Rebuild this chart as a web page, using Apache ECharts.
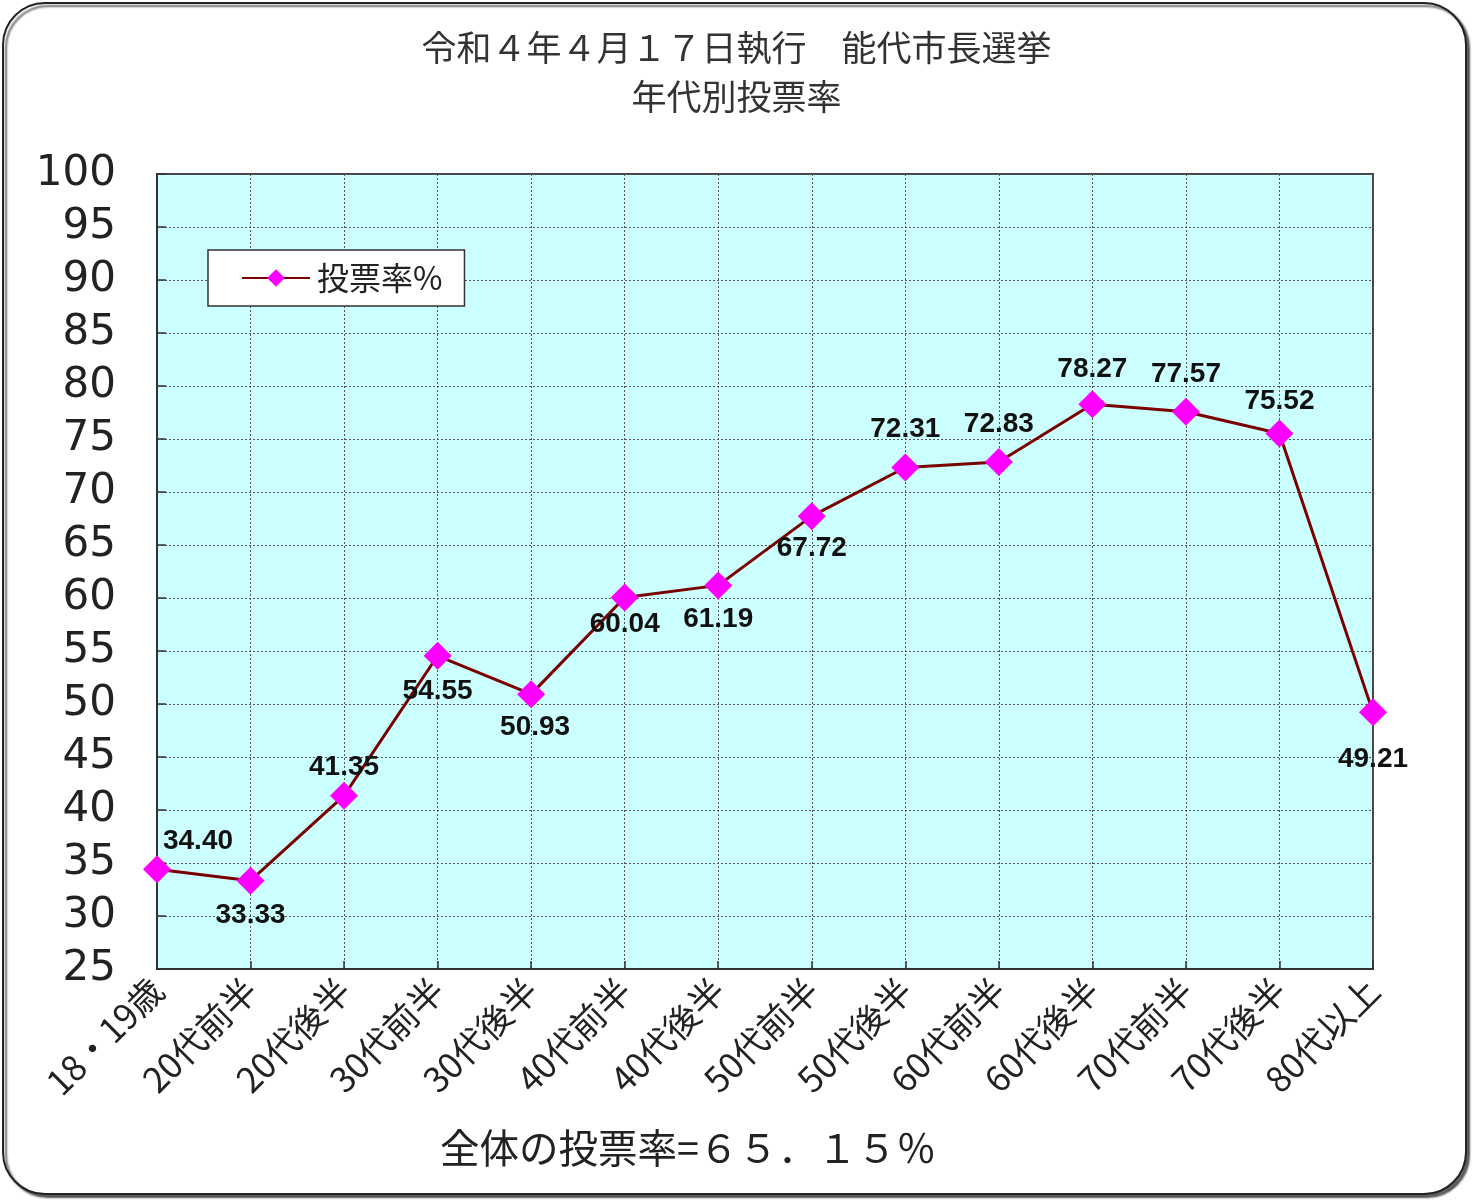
<!DOCTYPE html>
<html>
<head>
<meta charset="utf-8">
<script src="https://cdn.jsdelivr.net/npm/echarts@6/dist/echarts.min.js"></script>
<style>
html,body{margin:0;padding:0;background:#fff;}
#chart{width:1473px;height:1200px;}
</style>
</head>
<body>
<div id="chart"></div>
<script>
const titleLines = ['令和４年４月１７日執行　能代市長選挙', '年代別投票率'];
const categories = ['18・19歳','20代前半','20代後半','30代前半','30代後半','40代前半','40代後半','50代前半','50代後半','60代前半','60代後半','70代前半','70代後半','80代以上'];
const seriesName = '投票率%';
const values = [34.40, 33.33, 41.35, 54.55, 50.93, 60.04, 61.19, 67.72, 72.31, 72.83, 78.27, 77.57, 75.52, 49.21];
const yMin = 25, yMax = 100, yStep = 5;
const footer = '全体の投票率=６５．１５％';

// label layout offsets (dx, dy) relative to each point
const labelOffsets = [[41,-28],[0,35],[0,-28],[0,36],[4,33],[0,27],[0,34],[0,32],[0,-38],[0,-38],[0,-35],[0,-37],[0,-32],[0,47]];

const chart = echarts.init(document.getElementById('chart'));
const data = values.map((v, i) => ({
  value: v,
  label: { offset: labelOffsets[i] }
}));

chart.setOption({
  animation: false,
  backgroundColor: 'transparent',
  graphic: [
    { type: 'rect', z: -10, shape: { x: 3, y: 3, width: 1463, height: 1191, r: 42 },
      style: { fill: '#fff', stroke: '#222', lineWidth: 2, shadowColor: 'rgba(0,0,0,0.6)', shadowOffsetX: 3, shadowOffsetY: 3, shadowBlur: 2 } },
    { type: 'text', z: 10, left: 'center', top: 30,
      style: { text: titleLines[0], font: '35px "Noto Sans CJK JP"', fill: '#333' } },
    { type: 'text', z: 10, left: 'center', top: 79,
      style: { text: titleLines[1], font: '35px "Noto Sans CJK JP"', fill: '#333' } },
    { type: 'text', z: 10, left: 440, top: 1128,
      style: { text: footer, font: '39.5px "Noto Sans CJK JP"', fill: '#222' } }
  ],
  legend: {
    left: 208, top: 250,
    orient: 'vertical',
    backgroundColor: '#fff',
    borderColor: '#333', borderWidth: 1.5,
    padding: [12, 22, 12, 33],
    itemWidth: 68, itemHeight: 22, itemGap: 10,
    textStyle: { fontSize: 32, color: '#222', fontFamily: '"Noto Sans CJK JP"', padding: [0, 0, 0, 2] },
    data: [seriesName]
  },
  grid: {
    left: 157, top: 174, width: 1216, height: 795,
    show: true, backgroundColor: '#CCFFFF', borderColor: '#444', borderWidth: 2
  },
  xAxis: {
    type: 'category',
    data: categories,
    boundaryGap: false,
    axisLine: { lineStyle: { color: '#333', width: 2 } },
    axisTick: { inside: true, length: 8, lineStyle: { color: '#333', width: 1.5 } },
    splitLine: { show: true, lineStyle: { color: '#555', type: [2, 2], width: 1 } },
    axisLabel: { rotate: 45, margin: 15, fontSize: 35, color: '#222', fontFamily: '"Noto Sans CJK JP"', interval: 0 }
  },
  yAxis: {
    type: 'value',
    min: yMin, max: yMax, interval: yStep,
    axisLine: { show: true, lineStyle: { color: '#333', width: 2 } },
    axisTick: { show: true, inside: true, length: 9, lineStyle: { color: '#333', width: 1.5 } },
    splitLine: { show: true, lineStyle: { color: '#555', type: [2, 2], width: 1 } },
    axisLabel: { margin: 41, fontSize: 42, color: '#222', fontFamily: 'DejaVu Sans' }
  },
  series: [{
    name: seriesName,
    type: 'line',
    data: data,
    symbol: 'diamond',
    symbolSize: 28,
    lineStyle: { color: '#7A0000', width: 3 },
    itemStyle: { color: '#FF00FF', borderWidth: 0 },
    label: {
      show: true,
      position: 'inside',
      formatter: p => p.value.toFixed(2),
      fontSize: 28, fontWeight: 'bold', fontFamily: 'Liberation Sans', color: '#111'
    },
    z: 5
  }]
});
</script>
</body>
</html>
